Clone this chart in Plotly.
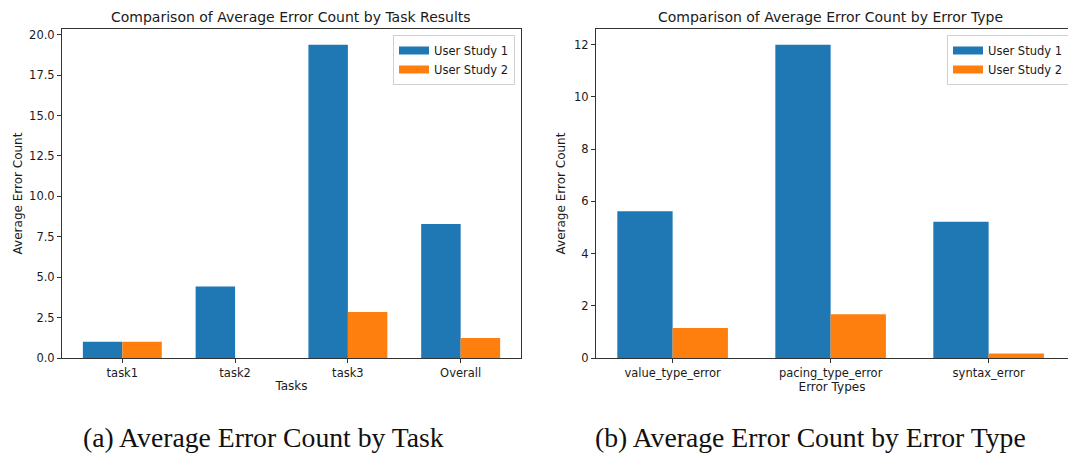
import plotly.graph_objects as go

tasks = ["task1", "task2", "task3", "Overall"]
task_study1 = [1.0, 4.43, 19.38, 8.29]
task_study2 = [1.0, 0.0, 2.84, 1.24]

error_types = ["value_type_error", "pacing_type_error", "syntax_error"]
err_study1 = [5.62, 12.0, 5.22]
err_study2 = [1.15, 1.68, 0.17]

series_names = ["User Study 1", "User Study 2"]
colors = ["#1f77b4", "#ff7f0e"]

W, H = 1068, 454
FONT = "DejaVu Sans"
TXT = "#1a1a1a"
FS = 12

fig = go.Figure()

for name, vals, col in zip(series_names, [task_study1, task_study2], colors):
    fig.add_trace(go.Bar(x=tasks, y=vals, name=name, marker=dict(color=col, line=dict(width=0)),
                         xaxis="x", yaxis="y", showlegend=False, offsetgroup=name))
for name, vals, col in zip(series_names, [err_study1, err_study2], colors):
    fig.add_trace(go.Bar(x=error_types, y=vals, name=name, marker=dict(color=col, line=dict(width=0)),
                         xaxis="x2", yaxis="y2", showlegend=False, offsetgroup=name))
# legend entries (wide rectangular swatches like matplotlib)
for leg, xa, ya in [("legend", "x", "y"), ("legend2", "x2", "y2")]:
    for name, col in zip(series_names, colors):
        fig.add_trace(go.Scatter(x=[None], y=[None], mode="lines", name=name, line=dict(color=col, width=8),
                                 xaxis=xa, yaxis=ya, legend=leg, hoverinfo="skip"))

def px(x):
    return x / W

def py(y):
    return 1 - y / H

ydom = [py(358), py(29)]
axcommon = dict(showgrid=False, zeroline=False, showline=True, linecolor="#333333", linewidth=1,
                ticks="outside", ticklen=4, tickcolor="#333333", automargin=False,
                tickfont=dict(family=FONT, size=11.5, color=TXT))
tfont = dict(family=FONT, size=FS, color=TXT)
legcommon = dict(yanchor="top", bgcolor="rgba(255,255,255,0.8)", bordercolor="#d0d0d0", borderwidth=1,
                 font=dict(family=FONT, size=11.5, color=TXT), tracegroupgap=0)

fig.update_layout(
    template="none",
    width=W, height=H,
    margin=dict(l=0, r=0, t=0, b=0, autoexpand=False),
    paper_bgcolor="white", plot_bgcolor="white",
    barmode="group", bargap=0.3, bargroupgap=0,
    font=dict(family=FONT, color=TXT),
    xaxis=dict(domain=[px(62), px(521)], anchor="y", type="category", range=[-0.535, 3.535], mirror=True,
               title=dict(text="Tasks", font=tfont, standoff=2), **axcommon),
    yaxis=dict(domain=ydom, anchor="x", range=[0, 20.35], tickvals=[0, 2.5, 5, 7.5, 10, 12.5, 15, 17.5, 20],
               tickformat=".1f", mirror=True,
               title=dict(text="Average Error Count", font=tfont, standoff=3), **axcommon),
    xaxis2=dict(domain=[px(596), 1.0], anchor="y2", type="category",
                range=[-0.485, -0.485 + (1068 - 596) / 158.0], mirror=True,
                title=dict(text="Error Types", font=tfont, standoff=2), **axcommon),
    yaxis2=dict(domain=ydom, anchor="x2", range=[0, 12.6], tickvals=[0, 2, 4, 6, 8, 10, 12], mirror=False,
                title=dict(text="Average Error Count", font=tfont, standoff=5), **axcommon),
    legend=dict(x=px(515), xanchor="right", y=py(35), **legcommon),
    legend2=dict(x=px(947), xanchor="left", y=py(35), **legcommon),
    annotations=[
        dict(text="Comparison of Average Error Count by Task Results", x=px(291.5), y=py(16.5), xref="paper", yref="paper",
             xanchor="center", yanchor="middle", showarrow=False, font=dict(family=FONT, size=14, color=TXT)),
        dict(text="Comparison of Average Error Count by Error Type", x=px(830), y=py(16.5), xref="paper", yref="paper",
             xanchor="center", yanchor="middle", showarrow=False, font=dict(family=FONT, size=14, color=TXT)),
        dict(text="(a) Average Error Count by Task", x=px(263), y=py(437), xref="paper", yref="paper",
             xanchor="center", yanchor="middle", showarrow=False, font=dict(family="Liberation Serif", size=27.7, color="#111111")),
        dict(text="(b) Average Error Count by Error Type", x=px(810), y=py(437), xref="paper", yref="paper",
             xanchor="center", yanchor="middle", showarrow=False, font=dict(family="Liberation Serif", size=27.7, color="#111111")),
    ],
)

fig.write_html("out.html", config={"displayModeBar": False},
               post_script="document.body.style.margin='0';document.body.style.overflow='hidden';")
